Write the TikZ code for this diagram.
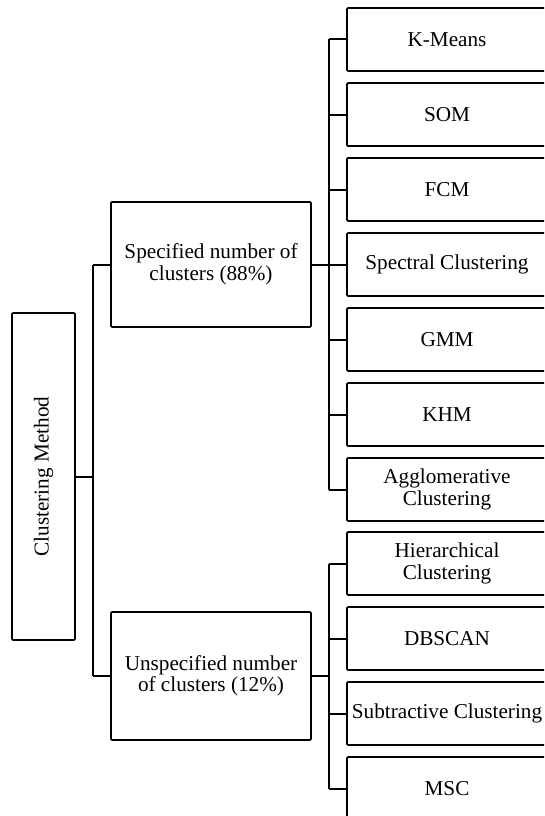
\documentclass[tikz,border=0pt]{standalone}
\usepackage{fontspec}
\setmainfont{Liberation Serif}
\begin{document}
\begin{tikzpicture}[x=1pt,y=-1pt,
  box/.style={draw=black, line width=1.6pt, rounded corners=1pt, align=center, inner sep=2pt,
    font=\fontsize{21.2}{21.5}\selectfont},
  leaf/.style={box, minimum width=200pt, minimum height=63pt},
  conn/.style={draw=black, line width=2pt}]
\clip (0,0) rectangle (544,816);
\fill[white] (0,0) rectangle (544,816);
\node[box, rotate=90, minimum width=327pt, minimum height=63pt] (root) at (43.5,476.5) {Clustering Method};
\node[box, minimum width=200pt, minimum height=125pt] (spec) at (211,264.5) {Specified number of\\clusters (88\%)};
\node[box, minimum width=200pt, minimum height=128pt] (unspec) at (211,676) {Unspecified number\\of clusters (12\%)};
\node[leaf] (km) at (447,39.5) {K-Means};
\node[leaf] (som) at (447,114.5) {SOM};
\node[leaf] (fcm) at (447,189.5) {FCM};
\node[leaf] (spc) at (447,264.5) {Spectral Clustering};
\node[leaf] (gmm) at (447,339.5) {GMM};
\node[leaf] (khm) at (447,414.5) {KHM};
\node[leaf] (agg) at (447,489.5) {Agglomerative\\Clustering};
\node[leaf] (hie) at (447,563.5) {Hierarchical\\Clustering};
\node[leaf] (dbs) at (447,638.5) {DBSCAN};
\node[leaf] (sub) at (447,713.5) {Subtractive Clustering};
\node[leaf] (msc) at (447,788.5) {MSC};
\coordinate (s0) at (93,0);
\coordinate (s1) at (329,0);
\draw[conn] (root.south) -- (root.south -| s0);
\draw[conn] (spec.west -| s0) -- (unspec.west -| s0);
\draw[conn] (spec.west -| s0) -- (spec.west);
\draw[conn] (unspec.west -| s0) -- (unspec.west);
\draw[conn] (spec.east) -- (spec.east -| s1);
\draw[conn] (km.west -| s1) -- (agg.west -| s1);
\foreach \c in {km,som,fcm,spc,gmm,khm,agg}{\draw[conn] (\c.west -| s1) -- (\c.west);}
\draw[conn] (unspec.east) -- (unspec.east -| s1);
\draw[conn] (hie.west -| s1) -- (msc.west -| s1);
\foreach \c in {hie,dbs,sub,msc}{\draw[conn] (\c.west -| s1) -- (\c.west);}
\end{tikzpicture}
\end{document}
